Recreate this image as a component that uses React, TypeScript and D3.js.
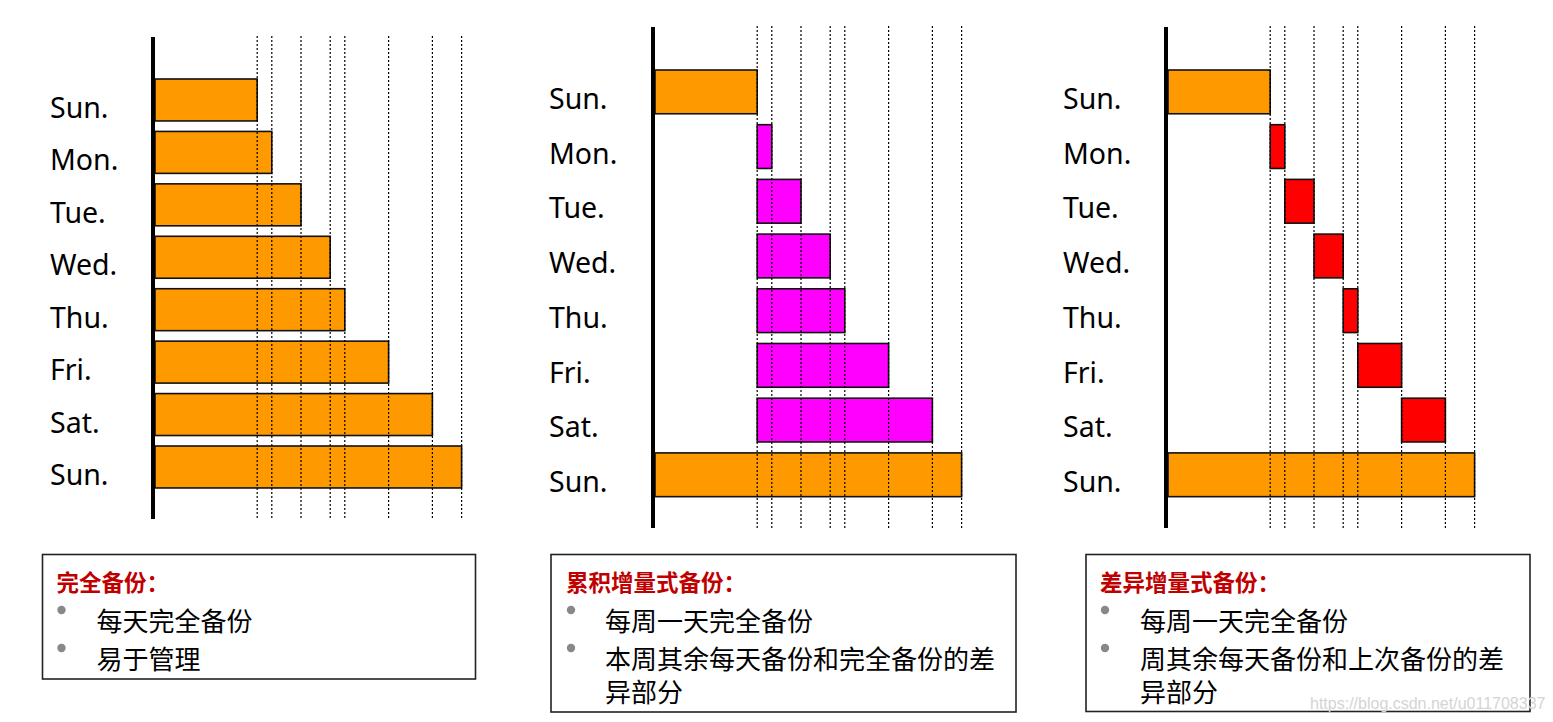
import React from "react";
import * as d3 from "d3";

// size of the data set on each day (units)
const dayLabels = ["Sun.", "Mon.", "Tue.", "Wed.", "Thu.", "Fri.", "Sat.", "Sun."];
const dataSize = [7, 8, 10, 12, 13, 16, 19, 21];

const fullTitle = "完全备份：";
const fullItems = [["每天完全备份"], ["易于管理"]];
const cumTitle = "累积增量式备份：";
const cumItems = [["每周一天完全备份"], ["本周其余每天备份和完全备份的差", "异部分"]];
const diffTitle = "差异增量式备份：";
const diffItems = [["每周一天完全备份"], ["周其余每天备份和上次备份的差", "异部分"]];

const ORANGE = "#FF9900";
const MAGENTA = "#FF00FF";
const RED = "#FF0000";
const LATIN = "'Noto Sans', 'Open Sans', sans-serif";
const CJK = "'Noto Sans CJK SC', 'Noto Sans', sans-serif";

type Mode = "full" | "cumulative" | "differential";

const Panel = ({ mode, x0, labelX, top, bottom, firstTop, step, lineTop, lineBottom }) => {
  const x = d3.scaleLinear().domain([0, 21]).range([x0, x0 + 306.6]);
  const idx = d3.range(dayLabels.length);
  const y = d3
    .scaleBand()
    .domain(idx)
    .range([firstTop - 0.1 * step, firstTop - 0.1 * step + step * dayLabels.length])
    .paddingInner(0.2)
    .paddingOuter(0.1);

  const barFor = (i: number) => {
    const last = dayLabels.length - 1;
    if (mode === "full" || i === 0 || i === last) {
      return { from: 0, to: dataSize[i], fill: ORANGE };
    }
    if (mode === "cumulative") {
      return { from: dataSize[0], to: dataSize[i], fill: MAGENTA };
    }
    return { from: dataSize[i - 1], to: dataSize[i], fill: RED };
  };

  return (
    <g>
      {idx.map((i) => {
        const b = barFor(i);
        return (
          <rect
            key={"b" + i}
            x={x(b.from)}
            y={y(i)}
            width={x(b.to) - x(b.from)}
            height={y.bandwidth()}
            fill={b.fill}
            stroke="#111"
            strokeWidth={1.6}
          />
        );
      })}
      {/* dotted guides sit on top of the bars */}
      {dataSize.map((v, i) => (
        <line
          key={"g" + i}
          x1={x(v)}
          x2={x(v)}
          y1={lineTop}
          y2={lineBottom}
          stroke="#000"
          strokeWidth={1.2}
          strokeDasharray="2,2"
        />
      ))}
      <line x1={x0 - 2} x2={x0 - 2} y1={top} y2={bottom} stroke="#000" strokeWidth={4} />
      {idx.map((i) => (
        <text
          key={"t" + i}
          x={labelX}
          y={(y(i) as number) + 39}
          fontFamily={LATIN}
          fontSize={28.5}
          fill="#000"
        >
          {dayLabels[i]}
        </text>
      ))}
    </g>
  );
};

const NoteBox = ({ x, y, w, h, title, items, pad, bulletDx, textDx }) => {
  let line = 0;
  const baselines = [631, 669];
  return (
    <g>
      <rect x={x} y={y} width={w} height={h} fill="#fff" stroke="#222" strokeWidth={1.6} />
      <text x={x + pad} y={591} fontFamily={CJK} fontWeight="bold" fontSize={22.5} fill="#C00000">
        {title}
      </text>
      {items.map((rows, k) => {
        const base = baselines[k];
        return (
          <g key={k}>
            <circle cx={x + bulletDx} cy={base - 21} r={4.2} fill="#888" />
            <text x={x + textDx} y={base} fontFamily={CJK} fontSize={26} fill="#000">
              {rows.map((r, j) => (
                <tspan key={j} x={x + textDx} dy={j === 0 ? 0 : 32.5}>
                  {r}
                </tspan>
              ))}
            </text>
          </g>
        );
      })}
    </g>
  );
};

export default function App() {
  return (
    <svg
      width={1553}
      height={722}
      style={{ position: "absolute", left: 0, top: 0, background: "#fff" }}
    >
      <rect width={1553} height={722} fill="#fff" />
      <Panel mode="full" x0={155} labelX={50} top={37} bottom={519} firstTop={79} step={52.43} lineTop={36} lineBottom={519} />
      <Panel mode="cumulative" x0={655} labelX={549} top={27} bottom={528} firstTop={70} step={54.7} lineTop={26} lineBottom={528} />
      <Panel mode="differential" x0={1168} labelX={1063} top={27} bottom={528} firstTop={70} step={54.7} lineTop={26} lineBottom={528} />

      <NoteBox x={42.5} y={554.5} w={433} h={124.5} title={fullTitle} items={fullItems} pad={14} bulletDx={19} textDx={54} />
      <NoteBox x={551} y={554.5} w={465} h={157.5} title={cumTitle} items={cumItems} pad={15} bulletDx={20} textDx={54} />
      <NoteBox x={1086} y={554.5} w={444} h={157} title={diffTitle} items={diffItems} pad={14} bulletDx={19} textDx={54} />

      <text x={1310} y={709} fontFamily="'Liberation Sans', Arial, sans-serif" fontSize={16} fill="#d4d4d4">
        https://blog.csdn.net/u011708337
      </text>
    </svg>
  );
}
